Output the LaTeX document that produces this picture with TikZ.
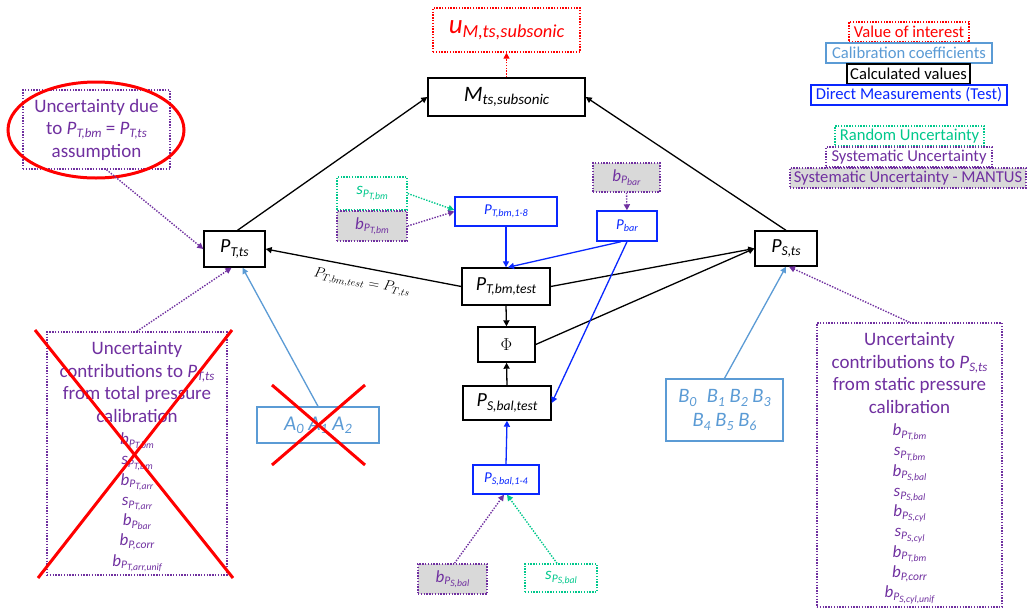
\documentclass[tikz,border=0pt]{standalone}
\usepackage{fontspec}
\setmainfont{Carlito}
\usetikzlibrary{arrows.meta,shapes.geometric}

\definecolor{valred}{RGB}{255,0,0}
\definecolor{calblue}{RGB}{91,155,213}
\definecolor{measblue}{RGB}{10,40,255}
\definecolor{randgreen}{RGB}{0,200,140}
\definecolor{syspurple}{RGB}{112,48,160}
\definecolor{mantusgray}{RGB}{217,217,217}

\newcommand{\fs}[2]{\fontsize{#1}{#2}\selectfont}
% first-level and nested subscripts, scaled from the surrounding size
\makeatletter
\newcommand{\sbs}[1]{\raisebox{-0.16em}{\fontsize{\fpeval{0.68*\f@size}}{0}\selectfont #1}}
\newcommand{\ssbs}[1]{\raisebox{-0.14em}{\fontsize{\fpeval{0.84*\f@size}}{0}\selectfont #1}}
\makeatother
\lineskiplimit=-100pt

\tikzset{
  box/.style={rectangle, draw, line width=1.4pt, inner sep=0pt, align=center},
  dots/.style={line width=1.4pt, dash pattern=on 1.4pt off 1.4pt},
  computed/.style={box, draw=black, text=black},
  direct/.style={box, draw=measblue, text=measblue},
  calib/.style={box, draw=calblue, text=calblue},
  interest/.style={box, dots, draw=valred, text=valred},
  randbox/.style={box, dots, draw=randgreen, text=randgreen},
  sysbox/.style={box, dots, draw=syspurple, text=syspurple},
  mantus/.style={sysbox, fill=mantusgray},
  legend/.style={minimum height=20pt, font=\fs{16.6}{19}},
  link/.style={line width=1.3pt, -{Triangle[length=6pt,width=6pt]}},
  blackedge/.style={link, draw=black},
  blueedge/.style={link, draw=measblue},
  calibedge/.style={link, draw=calblue},
  sysedge/.style={link, dots, draw=syspurple},
  randedge/.style={link, dots, draw=randgreen},
  interestedge/.style={link, dots, draw=valred},
  cross/.style={draw=valred, line width=3pt},
  heading/.style={anchor=north, inner sep=0pt, align=center, text=syspurple, font=\fs{19}{22.5}},
  contrib/.style={anchor=north, inner sep=0pt, align=center, text=syspurple, font=\fs{17}{20.3}\itshape},
}

\begin{document}
\begin{tikzpicture}[x=1pt,y=-1pt]
\useasboundingbox (0,0) rectangle (1033,611);
\fill[white] (0,0) rectangle (1033,611);

% ---------- legend ----------
\node[interest, legend, minimum width=120pt] (leg1) at (909,32) {Value of interest};
\node[calib, legend, minimum width=166pt] (leg2) at (909,53) {Calibration coefficients};
\node[computed, legend, minimum width=123pt] (leg3) at (908.5,74) {Calculated values};
\node[direct, legend, minimum width=196pt] (leg4) at (909,95) {Direct Measurements (Test)};
\node[randbox, legend, minimum width=149pt] (leg5) at (909.5,136) {Random Uncertainty};
\node[sysbox, legend, minimum width=166pt] (leg6) at (909,157) {Systematic Uncertainty};
\node[mantus, legend, minimum width=236pt] (leg7) at (908,178) {Systematic Uncertainty - MANTUS};

% ---------- result ----------
\node[interest, minimum width=147pt, minimum height=44pt, font=\fs{27}{30}\itshape] (uM) at (506.5,30) {u\sbs{M,ts,subsonic}};
\node[computed, minimum width=157pt, minimum height=38pt, font=\fs{22}{25}\itshape] (M) at (506.5,97) {M\sbs{ts,subsonic}};

% ---------- calculated pressures ----------
\node[computed, minimum width=61pt, minimum height=36pt, font=\fs{20}{24}\itshape] (PTts) at (234.5,249) {P\sbs{T,ts}};
\node[computed, minimum width=62pt, minimum height=35pt, font=\fs{20}{24}\itshape] (PSts) at (786,248.5) {P\sbs{S,ts}};
\node[computed, minimum width=88pt, minimum height=37pt, font=\fs{20}{24}\itshape] (PTbmtest) at (506,286.5) {P\sbs{T,bm,test}};
\node[computed, minimum width=57pt, minimum height=35pt, font=\fs{18}{22}] (Phi) at (506.5,344.5) {$\Phi$};
\node[computed, minimum width=88pt, minimum height=34pt, font=\fs{20}{24}\itshape] (PSbaltest) at (507,403) {P\sbs{S,bal,test}};

% ---------- direct measurements ----------
\node[direct, minimum width=102pt, minimum height=29pt, font=\fs{15}{17}\itshape] (PTbm18) at (506,211.5) {P\sbs{T,bm,1-8}};
\node[direct, minimum width=60pt, minimum height=30pt, font=\fs{15}{17}\itshape] (Pbar) at (627,226) {P\sbs{bar}};
\node[direct, minimum width=66pt, minimum height=29pt, font=\fs{15}{17}\itshape] (PSbal14) at (506,479.5) {P\sbs{S,bal,1-4}};

% ---------- elemental uncertainties ----------
\node[randbox, minimum width=70pt, minimum height=33pt, font=\fs{17}{19}\itshape] (sPTbm) at (372,193.5) {s\sbs{P\ssbs{T,bm}}};
\node[mantus, minimum width=70pt, minimum height=30pt, font=\fs{17}{19}\itshape] (bPTbm) at (372,226) {b\sbs{P\ssbs{T,bm}}};
\node[mantus, minimum width=67pt, minimum height=29pt, font=\fs{17}{19}\itshape] (bPbar) at (626.5,177.5) {b\sbs{P\ssbs{bar}}};
\node[mantus, minimum width=69pt, minimum height=30pt, font=\fs{17}{19}\itshape] (bPSbal) at (452.5,579) {b\sbs{P\ssbs{S,bal}}};
\node[randbox, minimum width=72pt, minimum height=28pt, font=\fs{17}{19}\itshape] (sPSbal) at (561,578) {s\sbs{P\ssbs{S,bal}}};

% ---------- calibration coefficients ----------
\node[calib, minimum width=122pt, minimum height=36pt, font=\fs{21}{24}\itshape] (A) at (318,425) {A\sbs{0} A\sbs{1} A\sbs{2}};
\node[calib, minimum width=117pt, minimum height=62pt, font=\fs{20.5}{24}\itshape] (B) at (724.5,410) {B\sbs{0}\enspace B\sbs{1} B\sbs{2} B\sbs{3}\\ B\sbs{4} B\sbs{5} B\sbs{6}};

% ---------- assumption note ----------
\node[sysbox, minimum width=147pt, minimum height=79pt, font=\fs{19}{22.5}] (assume) at (96.5,129.5)
  {Uncertainty due\\ to {\itshape P\sbs{T,bm}} = {\itshape P\sbs{T,ts}}\\ assumption};
\node[ellipse, draw=valred, line width=3pt, minimum width=176pt, minimum height=96pt] (ring) at (96,130) {};

% ---------- total pressure calibration contributions ----------
\node[sysbox, minimum width=180pt, minimum height=243pt] (leftbox) at (137,453.5) {};
\node[heading] (lefthead) at ([yshift=-10]leftbox.north)
  {Uncertainty\\ contributions to {\itshape P\sbs{T,ts}}\\ from total pressure\\ calibration};
\node[contrib] (leftlist) at ([yshift=-10]lefthead.south)
  {b\sbs{P\ssbs{T,bm}}\\ s\sbs{P\ssbs{T,bm}}\\ b\sbs{P\ssbs{T,arr}}\\ s\sbs{P\ssbs{T,arr}}\\ b\sbs{P\ssbs{bar}}\\ b\sbs{P,corr}\\ b\sbs{P\ssbs{T,arr,unif}}};

% ---------- static pressure calibration contributions ----------
\node[sysbox, minimum width=185pt, minimum height=284pt] (rightbox) at (909.5,465) {};
\node[heading] (righthead) at ([yshift=-10]rightbox.north)
  {Uncertainty\\ contributions to {\itshape P\sbs{S,ts}}\\ from static pressure\\ calibration};
\node[contrib] (rightlist) at ([yshift=-10]righthead.south)
  {b\sbs{P\ssbs{T,bm}}\\ s\sbs{P\ssbs{T,bm}}\\ b\sbs{P\ssbs{S,bal}}\\ s\sbs{P\ssbs{S,bal}}\\ b\sbs{P\ssbs{S,cyl}}\\ s\sbs{P\ssbs{S,cyl}}\\ b\sbs{P\ssbs{T,bm}}\\ b\sbs{P,corr}\\ b\sbs{P\ssbs{S,cyl,unif}}};

% ---------- connectors ----------
\draw[interestedge] (M.north) -- (uM.south);
\draw[blackedge] ([xshift=3]PTts.north) -- (M.west);
\draw[blackedge] (PSts.north) -- (M.east);
\draw[blackedge] (PTbmtest.west) -- (PTts.east);
\draw[blackedge] (PTbmtest.east) -- (PSts.west);
\draw[blackedge] (Phi.east) -- (PSts.west);
\draw[blackedge] (PTbmtest.south) -- (Phi.north);
\draw[blackedge] (PSbaltest.north) -- (Phi.south);
\draw[blueedge] (PTbm18.south) -- (PTbmtest.north);
\draw[blueedge] ([xshift=-6]Pbar.south) -- ([xshift=2]PTbmtest.north);
\draw[blueedge] (Pbar.south) -- (PSbaltest.east);
\draw[blueedge] (PSbal14.north) -- (PSbaltest.south);
\draw[sysedge] (bPbar.south) -- (Pbar.north);
\draw[randedge] (sPTbm.east) -- ([yshift=1.5]PTbm18.west);
\draw[sysedge] (bPTbm.east) -- (PTbm18.west);
\draw[sysedge] ([xshift=2]bPSbal.north) -- ([xshift=-2]PSbal14.south);
\draw[randedge] ([xshift=-4]sPSbal.north) -- ([xshift=1]PSbal14.south);
\draw[calibedge] (A.north) -- ([xshift=8]PTts.south);
\draw[sysedge] (leftbox.north) -- ([xshift=-3]PTts.south);
\draw[sysedge] ([xshift=10]assume.south) -- (PTts.west);
\draw[calibedge] (B.north) -- (PSts.south);
\draw[sysedge] (rightbox.north) -- ([xshift=3]PSts.south);

\node[rotate=-10.5, inner sep=0pt, font=\fs{14.5}{17}] (eqlabel) at (362,283) {$P_{T,bm,test} = P_{T,ts}$};

% ---------- struck-out items ----------
\draw[cross] (272,385) -- (365,465);
\draw[cross] (365,385) -- (272,465);
\draw[cross] (35,330) -- (233,578);
\draw[cross] (232,330) -- (38,578);
\end{tikzpicture}
\end{document}
